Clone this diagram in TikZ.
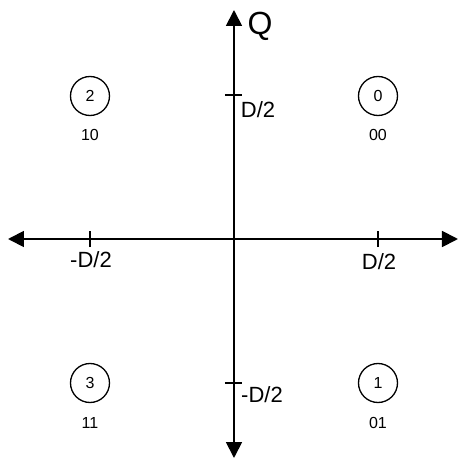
\documentclass[tikz,border=0pt]{standalone}
\usepackage{fontspec}
\setmainfont{Liberation Sans}
\usetikzlibrary{arrows.meta}
\tikzset{
	axis/.style={line width=1.8pt, {Triangle[length=16pt,width=16pt]}-{Triangle[length=16pt,width=16pt]}},
	tick/.style={line width=1.3pt},
	symb/.style={circle, draw, line width=1.3pt, minimum size=39pt, inner sep=0pt, font=\fontsize{16}{16}\selectfont},
	bits/.style={font=\fontsize{16}{16}\selectfont},
	lbl/.style={font=\fontsize{22}{22}\selectfont},
}
\begin{document}
\begin{tikzpicture}[x=1pt,y=1pt]
	\useasboundingbox (-234,-222) rectangle (230,239);
	% axes
	\coordinate (W) at (-226,0);
	\coordinate (E) at (224,0);
	\coordinate (N) at (0,229);
	\coordinate (S) at (0,-219);
	\draw[axis] (W) -- (E);
	\draw[axis] (S) -- (N);
	\draw[tick] (-144,-8) -- (-144,8);
	\draw[tick] (144,-8) -- (144,8);
	\draw[tick] (-9,144) -- (8,144);
	\draw[tick] (-9,-144) -- (8,-144);
	\node[anchor=west, font=\fontsize{32}{32}\selectfont] (q) at (10,213) {Q};
	\node[anchor=west, font=\fontsize{32}{32}\selectfont] (i) at (225,-26) {I};
	\node[lbl] (dq) at (24,129) {D/2};
	\node[lbl] (mdq) at (28,-156) {-D/2};
	\node[lbl] (mdi) at (-143,-21) {-D/2};
	\node[lbl] (di) at (145,-23) {D/2};
	% symbols
	\node[symb] (s0) at (144,143) {0};
	\node[symb] (s1) at (144,-144) {1};
	\node[symb] (s2) at (-144,143) {2};
	\node[symb] (s3) at (-144,-144) {3};
	\node[bits] at (144,104) {00};
	\node[bits] at (144,-184) {01};
	\node[bits] at (-144,104) {10};
	\node[bits] at (-144,-184) {11};
\end{tikzpicture}
\end{document}
